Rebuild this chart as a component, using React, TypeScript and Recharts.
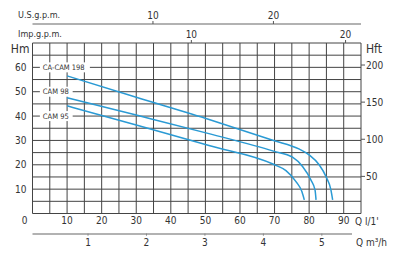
import { CartesianGrid, Line, LineChart, ReferenceDot, XAxis, YAxis } from "recharts";

const FONT = "'DejaVu Sans Condensed', 'Liberation Sans Narrow', sans-serif";
const INK = "#333";
const BLUE = "#2a9ad4";

// l/min grid (every 5) and head in metres (every 5)
const flowTicks = [0, 5, 10, 15, 20, 25, 30, 35, 40, 45, 50, 55, 60, 65, 70, 75, 80, 85, 90, 95];
const headTicks = [0, 5, 10, 15, 20, 25, 30, 35, 40, 45, 50, 55, 60, 65, 70];
const feetTicks = [50, 100, 150, 200];
const usTicks = [10, 20];
const impTicks = [10, 20];
const m3Ticks = [1, 2, 3, 4, 5];

// pump curves: q = l/min, h = metres
const cam198 = [
  { q: 10, h: 56.5 },
  { q: 30, h: 47.7 },
  { q: 51.3, h: 38.5 },
  { q: 69.7, h: 30 },
  { q: 77.2, h: 26.4 },
  { q: 80.1, h: 24 },
  { q: 82.9, h: 20 },
  { q: 84.9, h: 15.1 },
  { q: 86.3, h: 9.7 },
  { q: 86.8, h: 5.6 },
];
const cam98 = [
  { q: 10, h: 47.5 },
  { q: 30, h: 40.4 },
  { q: 51.3, h: 32.7 },
  { q: 69.7, h: 25.6 },
  { q: 75.2, h: 23.1 },
  { q: 78.1, h: 19.3 },
  { q: 80.5, h: 13.8 },
  { q: 81.7, h: 9.7 },
  { q: 82, h: 5.6 },
];
const cam95 = [
  { q: 10, h: 44.2 },
  { q: 30, h: 36.3 },
  { q: 51.3, h: 27.8 },
  { q: 69.7, h: 20.2 },
  { q: 73.3, h: 17.6 },
  { q: 76.2, h: 13.1 },
  { q: 77.9, h: 9 },
  { q: 78.6, h: 5.6 },
];

const curveNames = ["CA-CAM 198", "CAM 98", "CAM 95"];
const curveLabelHeads = [60, 50, 40];

const textStyle = { fontFamily: FONT, fill: INK };
const tickText = { fontSize: 10, fill: INK, fontFamily: FONT };

// empty rows so the secondary unit axes have something attached (draws nothing)
const axisRows = (ticks: number[]) => ticks.map((q) => ({ q, h: null }));

function FlowTick({ x, y, payload }: any) {
  const v = payload.value;
  if (v % 10 !== 0 || v > 90) return <g />;
  return (
    <text x={v === 0 ? x - 8 : x} y={y} dy="0.71em" textAnchor="middle" fontSize={10} {...textStyle}>
      {v}
    </text>
  );
}

function HeadTick({ x, y, payload }: any) {
  const v = payload.value;
  if (v % 10 !== 0 || v === 0 || v > 60) return <g />;
  return (
    <text x={x} y={y} dy="0.355em" textAnchor="end" fontSize={10} {...textStyle}>
      {v}
    </text>
  );
}

function CurveLabel({ cx, cy, name }: any) {
  const w = name.length * 4.3;
  return (
    <g>
      <rect x={cx - 3} y={cy - 5} width={w + 7} height={10} fill="#fff" />
      <text x={cx} y={cy} dy="0.35em" fontSize={7.5} {...textStyle}>
        {name}
      </text>
    </g>
  );
}

export default function App() {
  return (
    <div style={{ position: "absolute", left: 0, top: 0, background: "#fff" }}>
      <LineChart width={400} height={253} margin={{ top: 0, right: 0, bottom: 0, left: 0 }}>
        <CartesianGrid xAxisId="flow" yAxisId="m" stroke="#444" strokeWidth={1} />
        <XAxis
          xAxisId="flow"
          dataKey="q"
          type="number"
          domain={[0, 95]}
          ticks={flowTicks}
          height={20}
          axisLine={false}
          tickLine={false}
          tickSize={0}
          tickMargin={3}
          tick={<FlowTick />}
          interval={0}
          label={{
            content: ({ viewBox }: any) => (
              <text x={viewBox.x + viewBox.width - 6} y={viewBox.y + 11} fontSize={10} {...textStyle}>
                Q l/1'
              </text>
            ),
          }}
        />
        <XAxis
          xAxisId="m3cube"
          dataKey="q"
          type="number"
          domain={[0.05, 5.67]}
          allowDataOverflow
          ticks={m3Ticks}
          height={19.5}
          axisLine={false}
          tickLine={{ stroke: "#555" }}
          tickSize={2}
          tickMargin={3}
          tick={tickText}
          interval={0}
          label={{
            content: ({ viewBox }: any) => (
              <g>
                <line x1={viewBox.x} x2={viewBox.x + viewBox.width - 9} y1={viewBox.y + 0.5} y2={viewBox.y + 0.5} stroke="#999" strokeWidth={1.5} />
                <text x={viewBox.x + viewBox.width - 5} y={viewBox.y + 12.5} fontSize={10} {...textStyle}>
                  Q m³/h
                </text>
              </g>
            ),
          }}
        />
        <XAxis
          xAxisId="imp"
          dataKey="q"
          orientation="top"
          type="number"
          domain={[-0.3, 21]}
          allowDataOverflow
          ticks={impTicks}
          height={19}
          axisLine={false}
          tickLine={{ stroke: "#555" }}
          tickSize={3}
          tickMargin={2}
          tick={tickText}
          interval={0}
          label={{
            content: ({ viewBox }: any) => (
              <text x={18} y={viewBox.y + 13} fontSize={9} {...textStyle}>
                Imp.g.p.m.
              </text>
            ),
          }}
        />
        <XAxis
          xAxisId="us"
          dataKey="q"
          orientation="top"
          type="number"
          domain={[0, 27.27]}
          allowDataOverflow
          ticks={usTicks}
          height={24}
          axisLine={{ stroke: "#999", strokeWidth: 1.5 }}
          tickLine={{ stroke: "#555" }}
          tickSize={3}
          tickMargin={2}
          tick={tickText}
          interval={0}
          label={{
            content: () => (
              <text x={18} y={18} fontSize={9} {...textStyle}>
                U.S.g.p.m.
              </text>
            ),
          }}
        />
        <YAxis
          yAxisId="m"
          type="number"
          domain={[0, 70]}
          ticks={headTicks}
          width={32.5}
          axisLine={false}
          tickLine={false}
          tickSize={0}
          tickMargin={6}
          tick={<HeadTick />}
          interval={0}
          label={{
            content: ({ viewBox }: any) => (
              <text x={viewBox.x + viewBox.width - 3} y={viewBox.y + 10} textAnchor="end" fontSize={12} {...textStyle}>
                Hm
              </text>
            ),
          }}
        />
        <YAxis
          yAxisId="ft"
          orientation="right"
          type="number"
          domain={[0, 70 * 3.2808]}
          allowDataOverflow
          ticks={feetTicks}
          width={39}
          axisLine={false}
          tickLine={{ stroke: "#555" }}
          tickSize={4}
          tickMargin={1}
          tick={tickText}
          interval={0}
          label={{
            content: ({ viewBox }: any) => (
              <text x={viewBox.x + 5} y={viewBox.y + 10} fontSize={12} {...textStyle}>
                Hft
              </text>
            ),
          }}
        />
        <Line xAxisId="us" yAxisId="m" data={axisRows(usTicks)} dataKey="h" stroke="none" dot={false} isAnimationActive={false} />
        <Line xAxisId="imp" yAxisId="m" data={axisRows(impTicks)} dataKey="h" stroke="none" dot={false} isAnimationActive={false} />
        <Line xAxisId="m3cube" yAxisId="m" data={axisRows(m3Ticks)} dataKey="h" stroke="none" dot={false} isAnimationActive={false} />
        <Line xAxisId="flow" yAxisId="m" data={cam198} dataKey="h" type="monotone" stroke={BLUE} strokeWidth={1.5} dot={false} isAnimationActive={false} />
        <Line xAxisId="flow" yAxisId="m" data={cam98} dataKey="h" type="monotone" stroke={BLUE} strokeWidth={1.5} dot={false} isAnimationActive={false} />
        <Line xAxisId="flow" yAxisId="m" data={cam95} dataKey="h" type="monotone" stroke={BLUE} strokeWidth={1.5} dot={false} isAnimationActive={false} />
        {curveNames.map((name, i) => (
          <ReferenceDot
            key={name}
            xAxisId="flow"
            yAxisId="m"
            x={3}
            y={curveLabelHeads[i]}
            r={0}
            shape={(p: any) => <CurveLabel cx={p.cx} cy={p.cy} name={name} />}
          />
        ))}
      </LineChart>
    </div>
  );
}
